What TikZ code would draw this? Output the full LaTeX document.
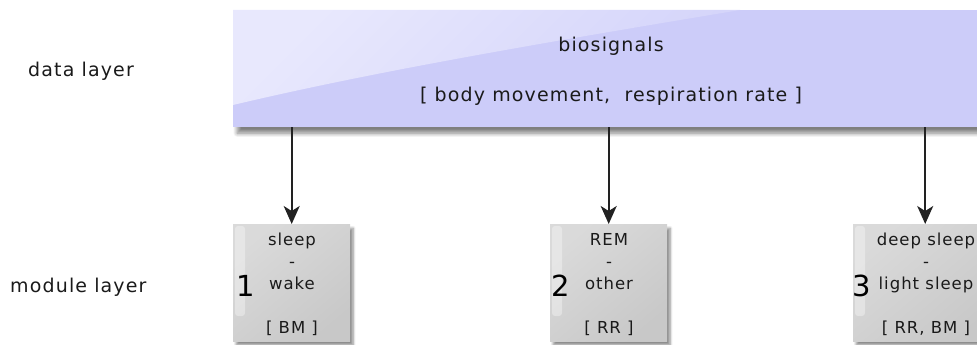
\documentclass[tikz,border=0pt]{standalone}
\usepackage{fontspec}
\setmainfont{DejaVu Sans}
\newfontfamily\lblfont{DejaVu Sans}[LetterSpace=6]
\usetikzlibrary{arrows.meta,shadows.blur}
\definecolor{lav}{HTML}{CCCCF9}
\definecolor{lavhi}{HTML}{E8E8FD}
\definecolor{lavmid}{HTML}{D4D4FA}
\definecolor{modgray}{HTML}{C8C8C8}
\definecolor{modlight}{HTML}{DADADA}
\definecolor{ink}{HTML}{1A1A1A}
\definecolor{arrowc}{HTML}{222222}
\begin{document}
\begin{tikzpicture}[x=1pt,y=-1pt,
  databox/.style={draw=none, fill=lav, anchor=north west, inner sep=0pt,
    minimum width=760pt, minimum height=117pt,
    blur shadow={shadow xshift=4pt, shadow yshift=-6pt, shadow blur radius=4pt, shadow blur steps=10, shadow opacity=50}},
  modbox/.style={draw=none, anchor=north west, inner sep=0pt, minimum height=117pt,
    top color=modlight, bottom color=modgray, shading angle=40,
    blur shadow={shadow xshift=3pt, shadow yshift=-4pt, shadow blur radius=2.5pt, shadow blur steps=8, shadow opacity=45}},
  gloss/.style={fill=white, fill opacity=0.35, rounded corners=3pt},
  lbl/.style={text=ink, inner sep=0pt, font=\lblfont\fontsize{19}{22}\selectfont},
  modtxt/.style={text=ink, inner sep=0pt, align=center, font=\lblfont\fontsize{16.5}{22}\selectfont},
  numtxt/.style={text=black, inner sep=0pt, font=\fontsize{29}{29}\selectfont},
  arr/.style={draw=arrowc, line width=1.6pt, -{Stealth[length=18pt,width=16pt,inset=5pt]}}
]
\useasboundingbox (0,0) rectangle (977,345);
\clip (0,0) rectangle (977,345);

% data layer box
\node[databox] (data) at (233,10) {};
\shade[top color=lavhi, bottom color=lavmid, shading angle=45]
  (data.north west) -- (740,10) .. controls (560,40) and (380,70) .. (233,105) -- cycle;

% module boxes
\node[modbox, minimum width=117pt] (m1) at (233,224) {};
\node[modbox, minimum width=117pt] (m2) at (550,224) {};
\node[modbox, minimum width=144pt] (m3) at (853,224) {};
\fill[gloss] ([shift={(2,2)}]m1.north west) rectangle ++(10,90);
\fill[gloss] ([shift={(2,2)}]m2.north west) rectangle ++(10,90);
\fill[gloss] ([shift={(2,2)}]m3.north west) rectangle ++(10,90);

% layer labels
\node[lbl, anchor=base west] (dl) at (28,77) {data layer};
\node[lbl, anchor=base west] (ml) at (10,292) {module layer};

% data box texts
\node[lbl, anchor=base] (bs) at (611,52) {biosignals};
\node[lbl, anchor=base] (bm) at (611,101) {[ body movement,\ \ respiration rate ]};

% module texts
\node[modtxt, anchor=north] (m1t) at (292,233) {sleep\\-\\wake\\[22pt]{[ BM ]}};
\node[modtxt, anchor=north] (m2t) at (609,233) {REM\\-\\other\\[22pt]{[ RR ]}};
\node[modtxt, anchor=north] (m3t) at (926,233) {deep sleep\\-\\light sleep\\[22pt]{[ RR, BM ]}};

\node[numtxt, anchor=base] (n1) at (246,296) {1};
\node[numtxt, anchor=base] (n2) at (561,296) {2};
\node[numtxt, anchor=base] (n3) at (862,296) {3};

% connectors
\draw[arr] (data.south -| m1.north) -- (m1.north);
\draw[arr] (data.south -| m2.north) -- (m2.north);
\draw[arr] (data.south -| m3.north) -- (m3.north);
\end{tikzpicture}
\end{document}
